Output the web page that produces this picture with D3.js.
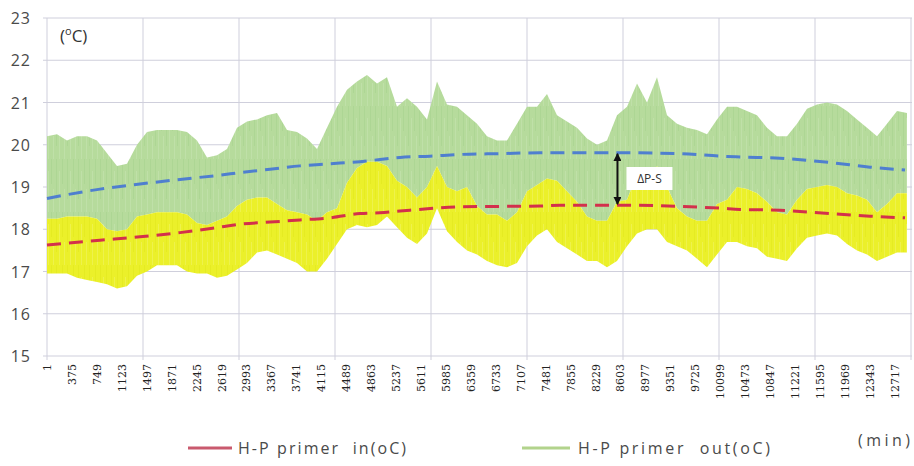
<!DOCTYPE html>
<html>
<head>
<meta charset="utf-8">
<script src="https://cdn.jsdelivr.net/npm/d3@7"></script>
<style>
body { margin: 0; background: #fff; }
svg { display: block; }
</style>
</head>
<body>
<svg id="chart" width="914" height="466"></svg>
<script>
// sample minutes (every 150 min)
var minutes = [1, 151, 301, 451, 601, 751, 901, 1051, 1201, 1351, 1501, 1651, 1801, 1951, 2101, 2251, 2401, 2551, 2701, 2851,
    3001, 3151, 3301, 3451, 3601, 3751, 3901, 4051, 4201, 4351, 4501, 4651, 4801, 4951, 5101, 5251, 5401, 5551, 5701, 5851,
    6001, 6151, 6301, 6451, 6601, 6751, 6901, 7051, 7201, 7351, 7501, 7651, 7801, 7951, 8101, 8251, 8401, 8551, 8701, 8851,
    9001, 9151, 9301, 9451, 9601, 9751, 9901, 10051, 10201, 10351, 10501, 10651, 10801, 10951, 11101, 11251, 11401, 11551, 11701, 11851,
    12001, 12151, 12301, 12451, 12601, 12751, 12901];

// upper edge of the green band (primer out)
var outMax = [20.2, 20.25, 20.1, 20.2, 20.2, 20.1, 19.8, 19.5, 19.55, 20.0, 20.3, 20.35, 20.35, 20.35, 20.3, 20.1, 19.7, 19.75, 19.9, 20.4,
    20.55, 20.6, 20.7, 20.75, 20.35, 20.3, 20.15, 19.9, 20.4, 20.9, 21.3, 21.5, 21.65, 21.45, 21.6, 20.9, 21.1, 20.9, 20.6, 21.5,
    20.95, 20.9, 20.7, 20.5, 20.2, 20.1, 20.1, 20.5, 20.9, 20.9, 21.2, 20.7, 20.55, 20.4, 20.15, 20.0, 20.1, 20.7, 20.9, 21.45,
    21.0, 21.6, 20.7, 20.5, 20.4, 20.35, 20.25, 20.6, 20.9, 20.9, 20.8, 20.7, 20.4, 20.2, 20.2, 20.5, 20.85, 20.95, 21.0, 20.95,
    20.8, 20.6, 20.4, 20.2, 20.5, 20.8, 20.75];

// boundary between green and yellow (upper edge of primer in)
var inMax = [18.25, 18.25, 18.3, 18.3, 18.3, 18.25, 18.0, 17.95, 18.0, 18.3, 18.35, 18.4, 18.4, 18.4, 18.35, 18.15, 18.1, 18.2, 18.3, 18.55,
    18.7, 18.75, 18.75, 18.6, 18.45, 18.4, 18.35, 18.2, 18.4, 18.5, 19.1, 19.45, 19.6, 19.6, 19.5, 19.15, 19.0, 18.75, 19.0, 19.5,
    19.0, 18.9, 19.0, 18.55, 18.35, 18.35, 18.2, 18.4, 18.9, 19.05, 19.2, 19.15, 18.9, 18.65, 18.3, 18.2, 18.2, 18.65, 18.7, 19.3,
    19.0, 19.5, 19.0, 18.5, 18.3, 18.2, 18.2, 18.6, 18.7, 19.0, 18.95, 18.85, 18.65, 18.4, 18.35, 18.7, 18.95, 19.0, 19.05, 19.0,
    18.85, 18.8, 18.7, 18.4, 18.6, 18.85, 18.85];

// lower edge of the yellow band
var inMin = [16.95, 16.95, 16.95, 16.85, 16.8, 16.75, 16.7, 16.6, 16.65, 16.9, 17.0, 17.15, 17.15, 17.15, 17.0, 16.95, 16.95, 16.85, 16.9, 17.05,
    17.2, 17.45, 17.5, 17.4, 17.3, 17.2, 17.0, 17.0, 17.3, 17.65, 18.0, 18.1, 18.05, 18.1, 18.3, 18.05, 17.8, 17.65, 17.9, 18.5,
    17.95, 17.7, 17.5, 17.4, 17.25, 17.15, 17.1, 17.2, 17.6, 17.85, 18.0, 17.7, 17.55, 17.4, 17.25, 17.25, 17.1, 17.25, 17.6, 17.9,
    18.0, 18.0, 17.7, 17.6, 17.5, 17.3, 17.1, 17.4, 17.7, 17.7, 17.6, 17.55, 17.35, 17.3, 17.25, 17.55, 17.8, 17.85, 17.9, 17.85,
    17.65, 17.5, 17.4, 17.25, 17.35, 17.45, 17.45];

// dashed trend lines
var trendMinutes = [1, 796, 1396, 1996, 2596, 2896, 3346, 3796, 4246, 4696, 4996, 5296, 5746, 6196, 6796, 7396, 7696, 8596, 9496, 10096, 10396, 10996, 11746, 12346, 12871];
var trendOut = [18.73, 18.95, 19.07, 19.18, 19.28, 19.34, 19.42, 19.5, 19.55, 19.6, 19.65, 19.7, 19.73, 19.77, 19.79, 19.81, 19.81, 19.81, 19.79, 19.73, 19.71, 19.68, 19.58, 19.47, 19.4];
var trendIn = [17.63, 17.74, 17.82, 17.92, 18.05, 18.12, 18.17, 18.22, 18.27, 18.37, 18.39, 18.43, 18.49, 18.53, 18.54, 18.55, 18.57, 18.57, 18.54, 18.5, 18.47, 18.45, 18.37, 18.31, 18.27];

var yTicks = [15, 16, 17, 18, 19, 20, 21, 22, 23];
var xLabels = [1, 375, 749, 1123, 1497, 1871, 2245, 2619, 2993, 3367, 3741, 4115, 4489, 4863, 5237, 5611, 5985, 6359,
    6733, 7107, 7481, 7855, 8229, 8603, 8977, 9351, 9725, 10099, 10473, 10847, 11221, 11595, 11969, 12343, 12717];
var dayLines = [1, 1441, 2881, 4321, 5761, 7201, 8641, 10081, 11521, 12961];

var colorOut = "#b6db9c";
var colorOutDark = "#add694";
var colorOutLight = "#bfe0a8";
var colorIn = "#ebf02a";
var colorInDark = "#e5eb22";
var colorInLight = "#eef24c";
var colorTrendOut = "#4f7fcf";
var colorTrendIn = "#d3304c";
var gridColor = "#cfcfdc";
var textColor = "#4a4a4a";
var sansFont = "'Open Sans', Lato, sans-serif";

var margin = { top: 18, right: 2, bottom: 110, left: 47 };
var w = 914, h = 466;

var svg = d3.select("#chart");
var defs = svg.append("defs");

var x = d3.scaleLinear().domain([1, 12976]).range([margin.left, w - margin.right]);
var y = d3.scaleLinear().domain([15, 23]).range([h - margin.bottom, margin.top]);

//      streaky fills so the bands look like the dense raw signal
function streaks(id, base, dark, light) {
    var p = defs.append("pattern").attr("id", id).attr("patternUnits", "userSpaceOnUse")
        .attr("width", 11).attr("height", 53);
    p.append("rect").attr("width", 11).attr("height", 53).attr("fill", base);
    p.append("rect").attr("x", 1).attr("width", 1).attr("height", 40).attr("fill", dark);
    p.append("rect").attr("x", 4).attr("y", 12).attr("width", 1).attr("height", 41).attr("fill", light);
    p.append("rect").attr("x", 7).attr("y", 0).attr("width", 1).attr("height", 25).attr("fill", dark);
    p.append("rect").attr("x", 9).attr("y", 30).attr("width", 1).attr("height", 23).attr("fill", light);
}
streaks("outFill", colorOut, colorOutDark, colorOutLight);
streaks("inFill", colorIn, colorInDark, colorInLight);

//      gridlines
svg.append("g").selectAll("line").data(yTicks).enter().append("line")
    .attr("x1", margin.left - 4).attr("x2", w - margin.right)
    .attr("y1", function (d) { return y(d); }).attr("y2", function (d) { return y(d); })
    .attr("stroke", gridColor).attr("stroke-width", 1);

svg.append("g").selectAll("line").data(dayLines).enter().append("line")
    .attr("x1", function (d) { return x(d); }).attr("x2", function (d) { return x(d); })
    .attr("y1", y(23)).attr("y2", y(15) + 4)
    .attr("stroke", gridColor).attr("stroke-width", 1);

//      bands
var rows = minutes.map(function (m, i) {
    return { m: m, top: outMax[i], mid: inMax[i], bot: inMin[i] };
});

var areaOut = d3.area()
    .x(function (d) { return x(d.m); })
    .y0(function (d) { return y(d.mid); })
    .y1(function (d) { return y(d.top); });

var areaIn = d3.area()
    .x(function (d) { return x(d.m); })
    .y0(function (d) { return y(d.bot); })
    .y1(function (d) { return y(d.mid); });

svg.append("path").datum(rows).attr("d", areaOut).attr("fill", "url(#outFill)");
svg.append("path").datum(rows).attr("d", areaIn).attr("fill", "url(#inFill)");

//      trend lines
var trendRows = trendMinutes.map(function (m, i) {
    return { m: m, out: trendOut[i], inn: trendIn[i] };
});

var lineOut = d3.line().curve(d3.curveMonotoneX)
    .x(function (d) { return x(d.m); }).y(function (d) { return y(d.out); });
var lineIn = d3.line().curve(d3.curveMonotoneX)
    .x(function (d) { return x(d.m); }).y(function (d) { return y(d.inn); });

svg.append("path").datum(trendRows).attr("d", lineOut)
    .attr("fill", "none").attr("stroke", colorTrendOut).attr("stroke-width", 3)
    .attr("stroke-dasharray", "14,8");
svg.append("path").datum(trendRows).attr("d", lineIn)
    .attr("fill", "none").attr("stroke", colorTrendIn).attr("stroke-width", 3)
    .attr("stroke-dasharray", "14,8");

//      delta arrow between the two trends
var arrowX = x(8603) - 3;
defs.append("marker").attr("id", "head").attr("viewBox", "0 0 10 10")
    .attr("refX", 9).attr("refY", 5).attr("markerWidth", 4).attr("markerHeight", 4)
    .attr("orient", "auto-start-reverse")
    .append("path").attr("d", "M0,0 L10,5 L0,10 Z").attr("fill", "#111");

svg.append("line")
    .attr("x1", arrowX).attr("x2", arrowX)
    .attr("y1", y(19.81) + 1).attr("y2", y(18.57) - 1)
    .attr("stroke", "#111").attr("stroke-width", 2)
    .attr("marker-start", "url(#head)").attr("marker-end", "url(#head)");

svg.append("rect").attr("x", arrowX + 9).attr("y", 167).attr("width", 46).attr("height", 23)
    .attr("fill", "#fff");
svg.append("text").attr("x", arrowX + 32).attr("y", 183)
    .attr("text-anchor", "middle").attr("font-family", sansFont)
    .attr("font-size", 12).attr("fill", "#333").text("ΔP-S");

//      y axis labels
svg.append("g").selectAll("text").data(yTicks).enter().append("text")
    .attr("x", 31).attr("y", function (d) { return y(d) + 6; })
    .attr("text-anchor", "end").attr("font-family", sansFont)
    .attr("font-size", 16).attr("letter-spacing", 1).attr("fill", textColor)
    .text(function (d) { return d; });

var unit = svg.append("text").attr("x", 60).attr("y", 42)
    .attr("font-family", sansFont).attr("font-size", 17).attr("fill", "#333");
unit.append("tspan").text("(");
unit.append("tspan").attr("font-size", 11).attr("dy", -7).text("o");
unit.append("tspan").attr("dy", 7).text("C)");

//      x axis labels, rotated
svg.append("g").selectAll("text").data(xLabels).enter().append("text")
    .attr("transform", function (d) { return "translate(" + (x(d) + 4) + "," + (y(15) + 8) + ") rotate(-90)"; })
    .attr("text-anchor", "end").attr("font-family", "'DejaVu Serif', serif")
    .attr("font-size", 11).attr("fill", "#222")
    .text(function (d) { return d; });

//      legend
svg.append("line").attr("x1", 188).attr("x2", 232).attr("y1", 448).attr("y2", 448)
    .attr("stroke", "#c95a6e").attr("stroke-width", 3);
svg.append("text").attr("x", 238).attr("y", 454).attr("font-family", sansFont)
    .attr("font-size", 16).attr("fill", textColor).attr("xml:space", "preserve")
    .attr("textLength", 168).attr("lengthAdjust", "spacing").text("H-P primer  in(oC)");

svg.append("line").attr("x1", 522).attr("x2", 570).attr("y1", 448).attr("y2", 448)
    .attr("stroke", "#b2d38c").attr("stroke-width", 3);
svg.append("text").attr("x", 578).attr("y", 454).attr("font-family", sansFont)
    .attr("font-size", 16).attr("fill", textColor).attr("xml:space", "preserve")
    .attr("textLength", 192).attr("lengthAdjust", "spacing").text("H-P primer  out(oC)");

svg.append("text").attr("x", 858).attr("y", 446).attr("font-family", sansFont)
    .attr("font-size", 16).attr("fill", textColor)
    .attr("textLength", 52).attr("lengthAdjust", "spacing").text("(min)");
</script>
</body>
</html>
